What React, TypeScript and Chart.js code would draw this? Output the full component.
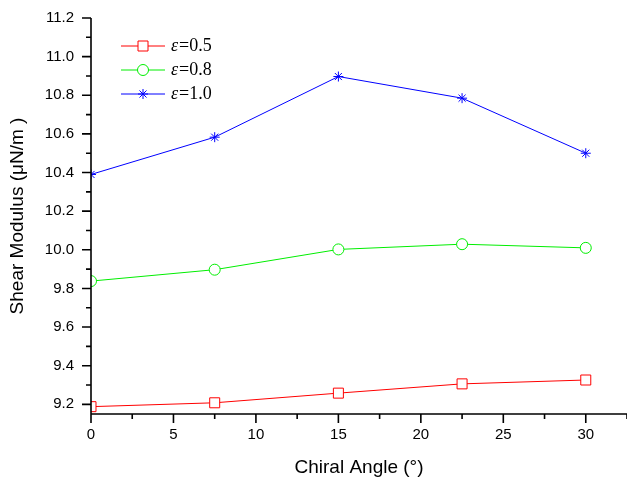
import React, { useEffect, useRef } from 'react';
import { Chart, registerables } from 'chart.js';

Chart.register(...registerables);

const chiralAngles = [0, 7.5, 15, 22.5, 30];
const strain05 = [9.188, 9.208, 9.258, 9.306, 9.326];
const strain08 = [9.838, 9.897, 10.002, 10.029, 10.01];
const strain10 = [10.39, 10.583, 10.897, 10.785, 10.5];
const seriesLabels = ['ε=0.5', 'ε=0.8', 'ε=1.0'];
const seriesColors = ['#ff0000', '#00ee00', '#0000ff'];
const seriesMarkers = ['rect', 'circle', 'star'];
const xMajorTicks = [0, 5, 10, 15, 20, 25, 30];
const xMinorTicks = [2.5, 7.5, 12.5, 17.5, 22.5, 27.5, 32.5];
const yMajorTicks = [9.2, 9.4, 9.6, 9.8, 10.0, 10.2, 10.4, 10.6, 10.8, 11.0, 11.2];
const yMinorTicks = [9.3, 9.5, 9.7, 9.9, 10.1, 10.3, 10.5, 10.7, 10.9, 11.1];

const SANS = '"Liberation Sans", Arial, sans-serif';
const SERIF = '"Liberation Serif", "Times New Roman", serif';

function drawMarker(ctx: CanvasRenderingContext2D, style: string, cx: number, cy: number, color: string) {
  ctx.save();
  ctx.strokeStyle = color;
  ctx.fillStyle = '#ffffff';
  ctx.lineWidth = 1;
  ctx.beginPath();
  if (style === 'rect') {
    ctx.rect(cx - 5, cy - 5, 10, 10);
    ctx.fill();
    ctx.stroke();
  } else if (style === 'circle') {
    ctx.arc(cx, cy, 5.5, 0, Math.PI * 2);
    ctx.fill();
    ctx.stroke();
  } else {
    const r = 5;
    for (let k = 0; k < 4; k++) {
      const ang = (k * Math.PI) / 4;
      ctx.moveTo(cx - r * Math.cos(ang), cy - r * Math.sin(ang));
      ctx.lineTo(cx + r * Math.cos(ang), cy + r * Math.sin(ang));
    }
    ctx.stroke();
  }
  ctx.restore();
}

const axesPlugin = {
  id: 'originAxes',
  afterDatasetsDraw(chart: any) {
    const { ctx, chartArea: a, scales } = chart;
    const x = scales.x;
    const y = scales.y;
    ctx.save();
    ctx.strokeStyle = '#000000';
    ctx.lineWidth = 1.6;
    ctx.beginPath();
    ctx.moveTo(a.left, a.top);
    ctx.lineTo(a.left, a.bottom + 0.8);
    ctx.moveTo(a.left - 0.8, a.bottom);
    ctx.lineTo(a.right, a.bottom);
    for (const v of yMajorTicks) {
      const py = y.getPixelForValue(v);
      ctx.moveTo(a.left - 9, py);
      ctx.lineTo(a.left, py);
    }
    for (const v of yMinorTicks) {
      const py = y.getPixelForValue(v);
      ctx.moveTo(a.left - 5, py);
      ctx.lineTo(a.left, py);
    }
    for (const v of xMajorTicks) {
      const px = x.getPixelForValue(v);
      ctx.moveTo(px, a.bottom);
      ctx.lineTo(px, a.bottom + 9);
    }
    for (const v of xMinorTicks) {
      const px = x.getPixelForValue(v);
      ctx.moveTo(px, a.bottom);
      ctx.lineTo(px, a.bottom + 5);
    }
    ctx.stroke();
    ctx.restore();
  },
};

const legendPlugin = {
  id: 'originLegend',
  afterDraw(chart: any) {
    const { ctx, chartArea: a } = chart;
    chart.data.datasets.forEach((ds: any, i: number) => {
      const rowY = a.top + 28 + i * 24;
      const x0 = a.left + 30;
      const x1 = a.left + 74;
      ctx.save();
      ctx.strokeStyle = ds.borderColor;
      ctx.lineWidth = 1;
      ctx.beginPath();
      ctx.moveTo(x0, rowY);
      ctx.lineTo(x1, rowY);
      ctx.stroke();
      ctx.restore();
      drawMarker(ctx, ds.pointStyle, (x0 + x1) / 2, rowY, ds.borderColor);
      const label: string = ds.label;
      ctx.save();
      ctx.fillStyle = '#000000';
      ctx.textBaseline = 'middle';
      ctx.textAlign = 'left';
      let tx = a.left + 80;
      ctx.font = `italic 18px ${SERIF}`;
      ctx.fillText(label.charAt(0), tx, rowY);
      tx += ctx.measureText(label.charAt(0)).width + 1;
      ctx.font = `18px ${SERIF}`;
      ctx.fillText(label.slice(1), tx, rowY);
      ctx.restore();
    });
  },
};

export default function App() {
  const ref = useRef<HTMLCanvasElement>(null);
  useEffect(() => {
    const seriesValues = [strain05, strain08, strain10];
    const chart = new Chart(ref.current as HTMLCanvasElement, {
      type: 'line',
      data: {
        datasets: seriesValues.map((vals, i) => ({
          label: seriesLabels[i],
          data: chiralAngles.map((a, j) => ({ x: a, y: vals[j] })),
          borderColor: seriesColors[i],
          backgroundColor: '#ffffff',
          borderWidth: 1,
          pointStyle: seriesMarkers[i] as any,
          pointRadius: seriesMarkers[i] === 'rect' ? 7.07 : seriesMarkers[i] === 'circle' ? 5.5 : 5,
          pointBackgroundColor: '#ffffff',
          pointBorderColor: seriesColors[i],
          pointBorderWidth: 1,
          tension: 0,
          clip: 0,
          fill: false,
        })),
      },
      options: {
        animation: false,
        responsive: false,
        devicePixelRatio: 1,
        layout: { autoPadding: false, padding: { left: 0, top: 18, right: 0, bottom: 0 } },
        plugins: { legend: { display: false }, tooltip: { enabled: false } },
        scales: {
          x: {
            type: 'linear',
            min: 0,
            max: 32.5,
            afterBuildTicks: (s: any) => {
              s.ticks = xMajorTicks.map((v) => ({ value: v }));
            },
            afterFit: (s: any) => {
              s.height = 63;
            },
            grid: { display: true, drawOnChartArea: false, drawTicks: true, tickLength: 12, color: 'rgba(0,0,0,0)' },
            border: { display: false },
            ticks: {
              padding: 0,
              autoSkip: false,
              maxRotation: 0,
              color: '#000000',
              font: { family: SANS, size: 15 },
              callback: (v: any) => String(v),
            },
            title: {
              display: true,
              text: 'Chiral Angle (°)',
              color: '#000000',
              font: { family: SANS, size: 19, lineHeight: 1 },
              padding: { top: 0, bottom: 0 },
            },
          },
          y: {
            type: 'linear',
            min: 9.15,
            max: 11.2,
            afterBuildTicks: (s: any) => {
              s.ticks = yMajorTicks.map((v) => ({ value: v }));
            },
            afterFit: (s: any) => {
              s.width = 91;
            },
            grid: { display: true, drawOnChartArea: false, drawTicks: true, tickLength: 17, color: 'rgba(0,0,0,0)' },
            border: { display: false },
            ticks: {
              padding: 0,
              autoSkip: false,
              color: '#000000',
              font: { family: SANS, size: 15 },
              callback: (v: any) => Number(v).toFixed(1),
            },
            title: {
              display: true,
              text: 'Shear Modulus (μN/m )',
              color: '#000000',
              font: { family: SANS, size: 19, lineHeight: 1 },
              padding: { top: 8, bottom: 0 },
            },
          },
        },
      },
      plugins: [axesPlugin, legendPlugin],
    });
    return () => chart.destroy();
  }, []);
  return (
    <div style={{ position: 'fixed', left: 0, top: 0, width: 627, height: 477, background: '#ffffff' }}>
      <canvas ref={ref} width={627} height={477} style={{ display: 'block' }} />
    </div>
  );
}
